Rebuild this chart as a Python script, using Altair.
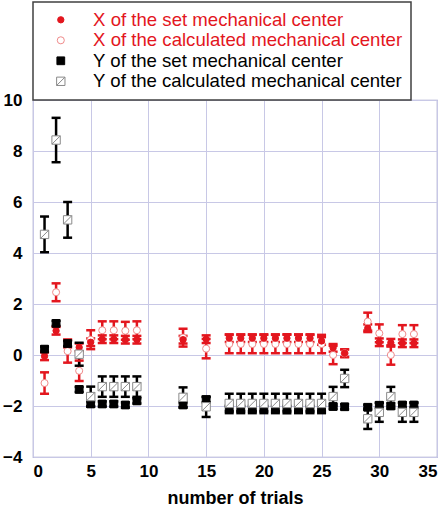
import altair as alt
import pandas as pd

trials = [1, 2, 3, 4, 5, 6, 7, 8, 9, 13, 15, 17, 18, 19, 20, 21, 22, 23, 24, 25, 26, 27, 29, 30, 31, 32, 33]

x_set = [-0.05, 0.95, 0.45, 0.30, 0.50, 0.62, 0.62, 0.60, 0.60, 0.60, 0.62,
         0.66, 0.66, 0.66, 0.66, 0.66, 0.66, 0.66, 0.66, 0.55, 0.28, 0.07,
         1.05, 0.50, 0.48, 0.46, 0.46]
x_set_err = [0.15] * 27

x_calc = [-1.10, 2.46, 0.15, -0.62, 0.60, 0.97, 0.97, 0.95, 0.97, 0.68, 0.25,
          0.43, 0.43, 0.43, 0.43, 0.43, 0.43, 0.43, 0.43, 0.43, 0.00, 0.07,
          1.31, 0.85, 0.00, 0.82, 0.82]
x_calc_err = [0.42, 0.35, 0.45, 0.40, 0.37, 0.35, 0.35, 0.35, 0.35, 0.35, 0.38,
              0.36, 0.36, 0.36, 0.36, 0.36, 0.36, 0.36, 0.36, 0.36, 0.36, 0.15,
              0.35, 0.35, 0.38, 0.35, 0.35]

y_set = [0.23, 1.24, 0.45, -1.35, -1.92, -1.92, -1.92, -1.96, -1.80, -1.96, -1.75,
         -2.10, -2.10, -2.10, -2.10, -2.10, -2.10, -2.10, -2.10, -2.10, -2.02, -2.03,
         -2.05, -1.97, -2.00, -1.96, -1.96]
y_set_err = [0.10] * 27

y_calc = [4.73, 8.43, 5.30, 0.03, -1.63, -1.24, -1.24, -1.24, -1.24, -1.66, -2.03,
          -1.90, -1.90, -1.90, -1.90, -1.90, -1.90, -1.90, -1.90, -1.90, -1.63, -0.92,
          -2.50, -2.25, -1.63, -2.25, -2.25]
y_calc_err = [0.70, 0.87, 0.70, 0.45, 0.39, 0.40, 0.40, 0.40, 0.40, 0.39, 0.40,
              0.38, 0.38, 0.38, 0.38, 0.38, 0.38, 0.38, 0.38, 0.38, 0.38, 0.34,
              0.40, 0.37, 0.38, 0.37, 0.37]

series_names = [
    "X of the set mechanical center",
    "X of the calculated mechanical center",
    "Y of the set mechanical center",
    "Y of the calculated mechanical center",
]

RED = "#e3161e"
rows = []
for name, grp, vals, errs, order in [
    (series_names[0], "X", x_set, x_set_err, 1),
    (series_names[1], "X", x_calc, x_calc_err, 0),
    (series_names[2], "Y", y_set, y_set_err, 2),
    (series_names[3], "Y", y_calc, y_calc_err, 3),
]:
    for t, v, e in zip(trials, vals, errs):
        rows.append(dict(trial=t, value=v, err=e, series=name, grp=grp, order=order))
df = pd.DataFrame(rows)

x_enc = alt.X(
    "trial:Q",
    scale=alt.Scale(domain=[0, 35], nice=False),
    axis=alt.Axis(values=[0, 5, 10, 15, 20, 25, 30, 35], title="number of trials",
                  titleFontSize=18, titleFontWeight="bold", titleFont="Liberation Sans",
                  titleColor="black", titlePadding=10, labelPadding=6),
)
y_scale = alt.Scale(domain=[-4, 10], nice=False)
y_axis = alt.Axis(values=[-4, -2, 0, 2, 4, 6, 8, 10], labelPadding=11)

grp_color = alt.Color("grp:N", scale=alt.Scale(domain=["X", "Y"], range=[RED, "black"]), legend=None)

base = alt.Chart(df).transform_calculate(
    lo="datum.value - datum.err", hi="datum.value + datum.err"
)

bars = base.mark_rule(strokeWidth=2.5).encode(
    x=x_enc,
    y=alt.Y("lo:Q", scale=y_scale, axis=y_axis, title=None),
    y2="hi:Q",
    color=grp_color,
)
caps_lo = base.mark_tick(orient="horizontal", size=9, thickness=2.5, opacity=1).encode(
    x=x_enc, y=alt.Y("lo:Q", scale=y_scale, axis=y_axis, title=None), color=grp_color
)
caps_hi = base.mark_tick(orient="horizontal", size=9, thickness=2.5, opacity=1).encode(
    x=x_enc, y=alt.Y("hi:Q", scale=y_scale, axis=y_axis, title=None), color=grp_color
)

leg = alt.Legend(labelColor=alt.ExprRef("substring(datum.label, 0, 1) == 'X' ? '" + RED + "' : 'black'"))

points = base.mark_point(filled=True, opacity=1, strokeWidth=1).encode(
    x=x_enc,
    y=alt.Y("value:Q", scale=y_scale, axis=y_axis, title=None),
    fill=alt.Fill("series:N", scale=alt.Scale(domain=series_names,
                  range=[RED, "white", "black", "white"]), legend=leg, title=None),
    stroke=alt.Stroke("series:N", scale=alt.Scale(domain=series_names,
                      range=[RED, "#f08a8a", "black", "#8a8a8a"]), legend=leg, title=None),
    shape=alt.Shape("series:N", scale=alt.Scale(domain=series_names,
                    range=["circle", "circle", "square", "M-1,-1H1V1H-1ZM-1,1L1,-1"]), legend=leg, title=None),
    size=alt.Size("series:N", scale=alt.Scale(domain=series_names, range=[40, 70, 100, 90]),
                  legend=leg, title=None),
    order=alt.Order("order:Q"),
)

chart = alt.layer(bars, caps_lo, caps_hi, points).properties(
    width=404, height=357,
    autosize=alt.AutoSizeParams(type="none"),
    padding={"left": 33, "top": 100, "right": 7, "bottom": 57},
    background="white",
).configure_view(
    stroke="#a0a0c8", strokeWidth=1.2
).configure_axis(
    grid=True, gridColor="#c8c8e6", gridWidth=1, domain=False, ticks=False,
    labelFont="Liberation Sans", labelFontWeight="bold", labelFontSize=17, labelColor="black",
).configure_legend(
    orient="none", legendX=0, legendY=-98,
    strokeColor="#404040", strokeWidth=1.5, fillColor="white",
    padding=8.5, rowPadding=1.5, symbolOffset=10, labelOffset=23,
    labelFont="Liberation Sans", labelFontSize=18.6, labelLimit=400,
    symbolStrokeWidth=1,
)

chart.save("out.html", embed_options={"renderer": "svg", "actions": False})
